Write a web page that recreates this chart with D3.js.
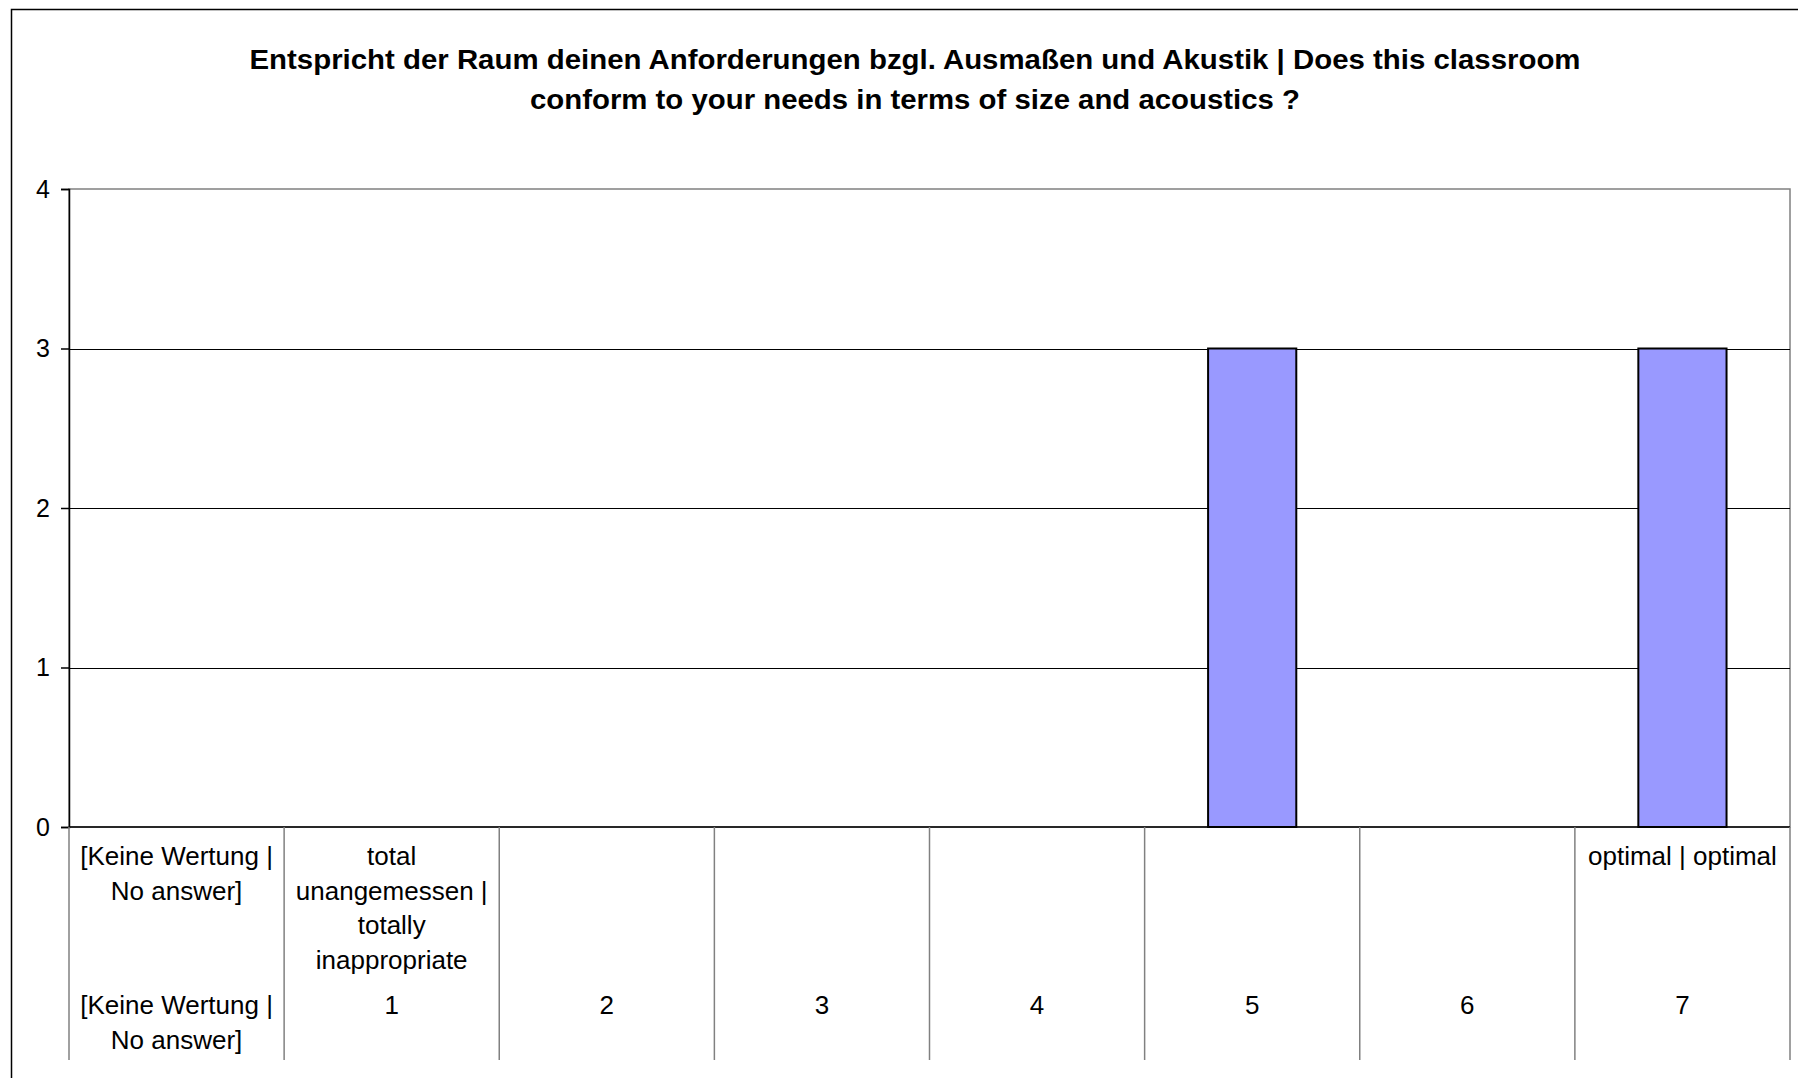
<!DOCTYPE html>
<html>
<head>
<meta charset="utf-8">
<script src="https://cdn.jsdelivr.net/npm/d3@7"></script>
<style>
  html, body { margin: 0; padding: 0; background: #fff; }
  svg { display: block; font-family: "Liberation Sans", Arial, sans-serif; }
</style>
</head>
<body>
<svg id="chart" width="1798" height="1078"></svg>
<script>
const titleLines = [
  "Entspricht der Raum deinen Anforderungen bzgl. Ausmaßen und Akustik | Does this classroom",
  "conform to your needs in terms of size and acoustics ?"
];
const categories = ["na", "1", "2", "3", "4", "5", "6", "7"];
const labelsTop = [
  ["[Keine Wertung |", "No answer]"],
  ["total", "unangemessen |", "totally", "inappropriate"],
  [], [], [], [], [],
  ["optimal | optimal"]
];
const labelsBottom = [
  ["[Keine Wertung |", "No answer]"],
  ["1"], ["2"], ["3"], ["4"], ["5"], ["6"], ["7"]
];
const values = [0, 0, 0, 0, 0, 3, 0, 3];
const yTicks = [0, 1, 2, 3, 4];

const svg = d3.select("#chart");
const L = 69, R = 1790, T = 189, B = 827;

// outer frame (cropped at right/bottom)
svg.append("rect").attr("x", 11.5).attr("y", 9.5).attr("width", 1800).attr("height", 1100)
  .attr("fill", "#fff").attr("stroke", "#000").attr("stroke-width", 1.5);

// title
const title = svg.append("g");
const titleWidths = [1331, 770];
titleLines.forEach((t, i) => {
  title.append("text")
    .attr("x", 915).attr("y", 69 + i * 40)
    .attr("text-anchor", "middle")
    .attr("font-size", 27).attr("font-weight", "bold")
    .attr("textLength", titleWidths[i]).attr("lengthAdjust", "spacingAndGlyphs")
    .text(t);
});

const x = d3.scaleBand().domain(categories).range([L, R]).padding(0);
const xBar = d3.scaleBand().domain(categories).range([L, R]).paddingInner(0.59).paddingOuter(0.295);
const y = d3.scaleLinear().domain([0, 4]).range([B, T]);

// plot area border (gray)
svg.append("rect").attr("x", L).attr("y", T).attr("width", R - L).attr("height", B - T)
  .attr("fill", "#fff").attr("stroke", "#808080").attr("stroke-width", 1.5);

// gridlines
svg.append("g").selectAll("line").data(yTicks.filter(d => d > 0 && d < 4)).join("line")
  .attr("x1", L).attr("x2", R).attr("y1", d => Math.round(y(d)) + 0.5).attr("y2", d => Math.round(y(d)) + 0.5)
  .attr("stroke", "#000").attr("stroke-width", 1);

// bars
svg.append("g").selectAll("rect").data(values.map((v, i) => ({ c: categories[i], v })).filter(d => d.v > 0)).join("rect")
  .attr("x", d => xBar(d.c)).attr("width", xBar.bandwidth())
  .attr("y", d => y(d.v)).attr("height", d => y(0) - y(d.v))
  .attr("fill", "#9999FF").attr("stroke", "#000").attr("stroke-width", 2);

// y axis
const yAxis = svg.append("g").attr("transform", `translate(${L},0)`)
  .call(d3.axisLeft(y).tickValues(yTicks).tickFormat(d3.format("d")).tickSize(8).tickPadding(11));
yAxis.select(".domain").attr("stroke", "#000").attr("stroke-width", 1.5);
yAxis.selectAll(".tick line").attr("stroke", "#000").attr("stroke-width", 1.5);
yAxis.selectAll(".tick text").attr("font-size", 25).attr("fill", "#000")
  .attr("font-family", "'Liberation Sans', Arial, sans-serif");

// baseline
svg.append("line").attr("x1", L).attr("x2", R).attr("y1", B).attr("y2", B)
  .attr("stroke", "#000").attr("stroke-width", 1.5);

// category dividers
const divs = categories.map(c => x(c)).concat([R]);
svg.append("g").selectAll("line").data(divs).join("line")
  .attr("x1", d => d).attr("x2", d => d).attr("y1", B).attr("y2", 1060)
  .attr("stroke", "#808080").attr("stroke-width", 1.5);

// category labels
const lh = 34.5;
const lab = svg.append("g").attr("font-size", 26).attr("text-anchor", "middle").attr("fill", "#000");
categories.forEach((c, i) => {
  const cx = x(c) + x.bandwidth() / 2;
  labelsTop[i].forEach((t, j) => {
    lab.append("text").attr("x", cx).attr("y", 865 + j * lh).text(t);
  });
  labelsBottom[i].forEach((t, j) => {
    lab.append("text").attr("x", cx).attr("y", 1014 + j * lh).text(t);
  });
});
</script>
</body>
</html>
